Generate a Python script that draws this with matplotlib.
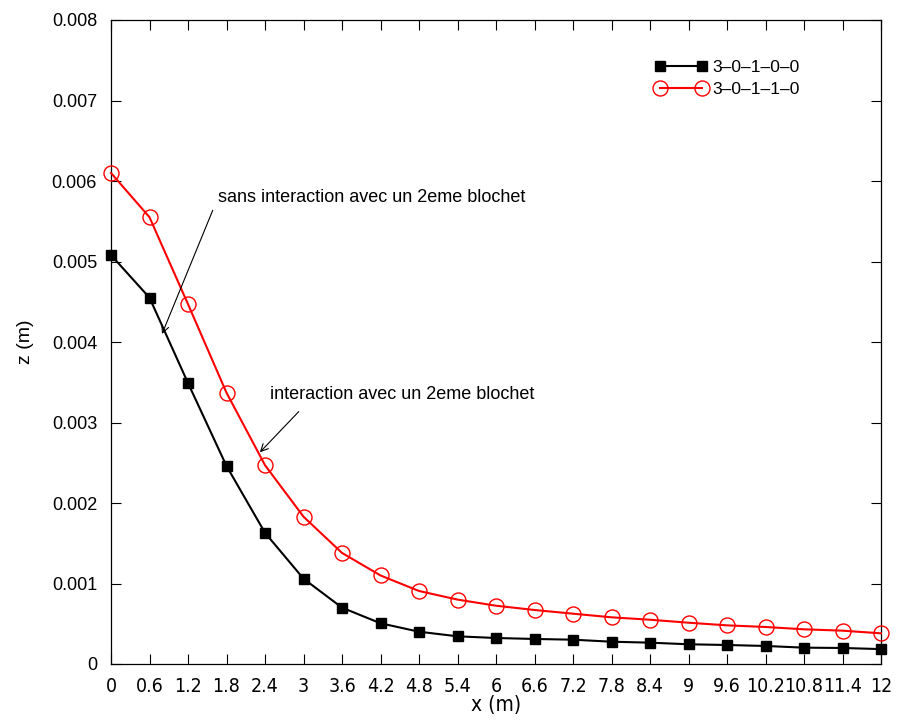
import matplotlib
matplotlib.use("Agg")
import matplotlib.pyplot as plt
import numpy as np

plt.rcParams['font.family'] = ['Liberation Sans', 'DejaVu Sans']

x = [0, 0.6, 1.2, 1.8, 2.4, 3, 3.6, 4.2, 4.8, 5.4, 6, 6.6, 7.2, 7.8, 8.4, 9, 9.6, 10.2, 10.8, 11.4, 12]
x_labels = ["0", "0.6", "1.2", "1.8", "2.4", "3", "3.6", "4.2", "4.8", "5.4", "6", "6.6", "7.2",
            "7.8", "8.4", "9", "9.6", "10.2", "10.8", "11.4", "12"]
z_sans = [0.00508, 0.00455, 0.00349, 0.00246, 0.00163, 0.00106, 0.00070, 0.000506, 0.000401,
          0.000344, 0.000323, 0.000311, 0.000302, 0.000277, 0.000265, 0.000245, 0.000236,
          0.000224, 0.000203, 0.000199, 0.000185]
z_avec = [0.00610, 0.00555, 0.00447, 0.00337, 0.00247, 0.00183, 0.00138, 0.00110, 0.000907,
          0.000800, 0.000724, 0.000671, 0.000625, 0.000580, 0.000550, 0.000513, 0.000480,
          0.000460, 0.000431, 0.000414, 0.000381]
y_ticks = [0, 0.001, 0.002, 0.003, 0.004, 0.005, 0.006, 0.007, 0.008]
y_labels = ["0", "0.001", "0.002", "0.003", "0.004", "0.005", "0.006", "0.007", "0.008"]

fig = plt.figure(figsize=(8.97, 7.2), dpi=100)
ax = fig.add_axes([111/897, 1-664/720, (881-111)/897, (664-20)/720])

ax.plot(x, z_sans, color='black', lw=1.5, marker='s', ms=7.8, mfc='black', mec='black',
        label='3\u20130\u20131\u20130\u20130', clip_on=False, zorder=3)
ax.plot(x, z_avec, color='#ff0000', lw=1.5, marker='o', ms=10.8, mfc='none', mec='#ff0000',
        mew=1.0, label='3\u20130\u20131\u20131\u20130', clip_on=False, zorder=3)

ax.set_xlim(0, 12)
ax.set_ylim(0, 0.008)
ax.set_xticks(x)
ax.set_xticklabels(x_labels, fontsize=14)
for t in ax.get_xticklabels():
    t.set_family('DejaVu Sans')
    t.set_fontstretch('condensed')
ax.set_yticks(y_ticks)
ax.set_yticklabels(y_labels, fontsize=13)
ax.tick_params(axis='y', direction='in', length=7, width=0.8, right=True, pad=10)
ax.tick_params(axis='x', direction='in', length=7, width=0.8, top=True, pad=9)
for s in ax.spines.values():
    s.set_linewidth(0.9)

ax.set_xlabel('x (m)', fontsize=15, labelpad=0)
lab = ax.xaxis.label
lab.set_family('DejaVu Sans')
lab.set_fontstretch('condensed')
ax.set_ylabel('z (m)', fontsize=14, labelpad=13)

ax.annotate('sans interaction avec un 2eme blochet', xy=(0.795, 0.00410), xytext=(1.67, 0.00580),
            fontsize=13, va='center', ha='left',
            arrowprops=dict(arrowstyle='->', color='black', lw=0.8, shrinkA=5, shrinkB=0,
                            relpos=(0.0, 0.5)))
ax.annotate('interaction avec un 2eme blochet', xy=(2.32, 0.00263), xytext=(2.48, 0.00335),
            fontsize=13, va='center', ha='left',
            arrowprops=dict(arrowstyle='->', color='black', lw=0.8, shrinkA=6, shrinkB=0,
                            relpos=(0.14, 0.0)))

ax.legend(loc='upper right', bbox_to_anchor=(0.915, 0.962), frameon=False, numpoints=2,
          handlelength=3.0, fontsize=12.5, handletextpad=0.3, labelspacing=0.4)

fig.savefig('out.png', dpi=100)
